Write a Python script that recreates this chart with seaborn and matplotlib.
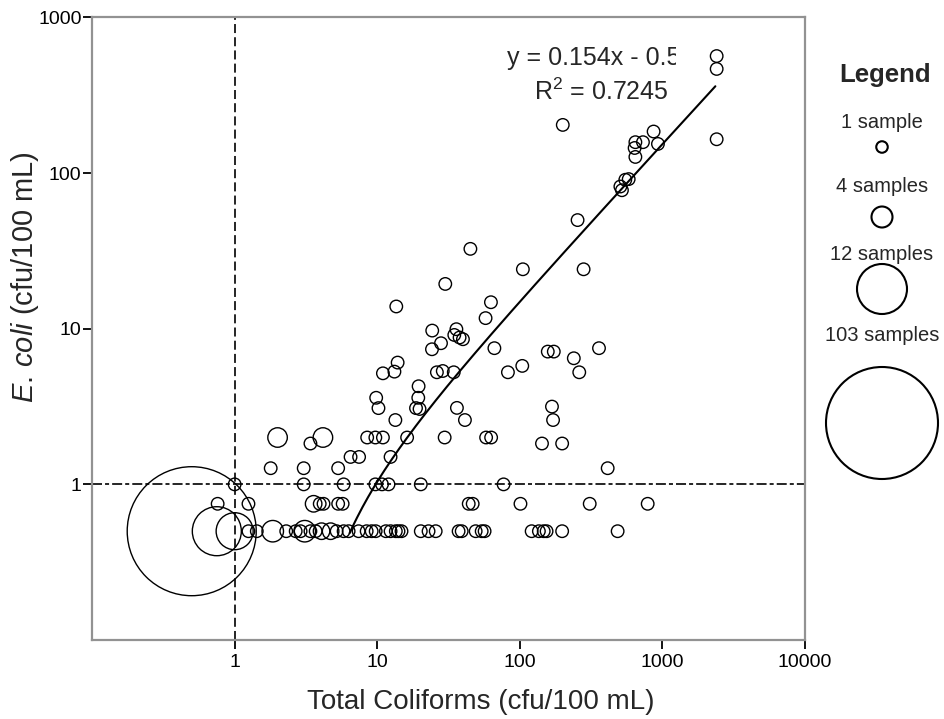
import numpy as np
import pandas as pd
import matplotlib
matplotlib.use("Agg")
import matplotlib.pyplot as plt
import seaborn as sns
from matplotlib.transforms import Bbox, TransformedBbox

# ---- data: one entry per plotted circle ----
# Total coliforms (cfu/100 mL)
total_coliforms = [
    # E. coli = 0.5
    0.5, 0.75, 1.0, 1.25, 1.43, 1.85, 2.3, 2.68, 2.9, 3.1, 3.4, 3.7, 4.07, 4.71,
    5.19, 5.81, 6.3, 7.4, 8.43, 9.14, 9.75, 11.5, 12.4, 13.5, 14.1, 14.8, 20.2,
    22.9, 25.7, 37.2, 39.1, 49, 54, 56.6, 121, 136, 147, 154, 198, 485,
    # E. coli = 0.75
    0.76, 1.25, 3.58, 3.95, 4.2, 5.32, 5.72, 43.8, 46.7, 101, 309, 788,
    # E. coli = 1
    1.0, 3.05, 5.81, 9.7, 10.8, 12.0, 20.2, 76.9,
    # E. coli = 1.27
    1.79, 3.05, 5.32, 413,
    # E. coli = 1.5
    6.5, 7.46, 12.4,
    # E. coli = 1.83
    3.4, 143, 198,
    # E. coli = 2
    2.0, 4.16, 8.5, 9.7, 10.96, 16.2, 29.7, 58, 62.9,
    # E. coli above 2
    13.4, 41.2, 171,
    10.2, 18.7, 19.8, 36.2, 168,
    9.83, 19.4,
    19.5,
    10.96, 13.2, 26.2, 28.8, 34.4, 82.5, 261,
    104, 13.9, 239,
    157, 173, 24.2, 66.3, 359,
    28, 39.9, 37.8, 34.7, 24.3, 35.9,
    57.5, 13.6, 62.7, 30, 105, 280, 45, 254,
    507, 520, 549, 580,
    646, 638, 646, 730, 930, 867, 200,
    2400, 2400, 2400,
]

# E. coli (cfu/100 mL)
e_coli = (
    [0.5] * 40
    + [0.75] * 12
    + [1.0] * 8
    + [1.27] * 4
    + [1.5] * 3
    + [1.83] * 3
    + [2.0] * 9
    + [
        2.59, 2.59, 2.59,
        3.09, 3.09, 3.05, 3.1, 3.16,
        3.6, 3.6,
        4.27,
        5.17, 5.3, 5.25, 5.35, 5.25, 5.25, 5.25,
        5.77, 6.06, 6.46,
        7.13, 7.13, 7.38, 7.5, 7.5,
        8.07, 8.56, 8.78, 9.12, 9.73, 9.93,
        11.7, 13.9, 14.8, 19.4, 24.1, 24.1, 32.6, 49.9,
        82, 77.6, 90.6, 91.5,
        127, 145, 158, 158, 154, 185, 204,
        165, 467, 565,
    ]
)

# number of samples sharing each point
n_samples = (
    [103, 12, 8, 1, 1, 4, 1, 1, 1, 4, 1, 1, 2, 2] + [1] * 26
    + [1, 1, 2] + [1] * 9
    + [1] * 8
    + [1] * 4
    + [1] * 3
    + [1] * 3
    + [3, 3] + [1] * 7
    + [1] * 54
)

# fitted trend line
fit_slope = 0.154
fit_intercept = -0.5
fit_r2 = 0.7245
fit_tc_range = (6.4, 2350)

# size key
legend_counts = [1, 4, 12, 103]
legend_labels = ["1 sample", "4 samples", "12 samples", "103 samples"]

x_ticks = [1, 10, 100, 1000, 10000]
y_ticks = [1, 10, 100, 1000]

# ---- style ----
sns.set_style("ticks")
plt.rcParams["font.family"] = ["Liberation Sans", "DejaVu Sans"]
plt.rcParams["mathtext.fontset"] = "custom"
plt.rcParams["mathtext.rm"] = "Liberation Sans"
plt.rcParams["mathtext.it"] = "Liberation Sans:italic"
plt.rcParams["lines.scale_dashes"] = False


def area(diam_px):
    """Marker area (pt^2) for a circle of the given pixel diameter at 100 dpi."""
    return (diam_px * 0.72) ** 2


point_sizes = {1: area(12.5), 2: area(16.5), 3: area(19.5), 4: area(21.5),
               8: area(37), 12: area(49), 103: area(129)}
key_sizes = {1: area(11.5), 4: area(21), 12: area(50), 103: area(112)}

df = pd.DataFrame({"tc": total_coliforms, "ec": e_coli, "n": n_samples})

fig = plt.figure(figsize=(9.44, 7.19), dpi=100)
ax = fig.add_axes([0.0975, 0.1099, 0.7553, 0.8658])
ax.set_xscale("log")
ax.set_yscale("log")

sns.scatterplot(data=df, x="tc", y="ec", size="n", sizes=point_sizes,
                facecolor="none", edgecolor="black", linewidth=1.0,
                legend=False, ax=ax, zorder=3)

fit_x = np.geomspace(*fit_tc_range, 200)
fit_y = fit_slope * fit_x + fit_intercept
sns.lineplot(x=fit_x, y=fit_y, color="black", linewidth=1.5,
             estimator=None, sort=False, ax=ax, zorder=4)

# reference lines at 1 cfu/100 mL
ax.axvline(1, color="black", linewidth=1.2, linestyle=(0, (6.5, 3.0)), zorder=2)
ax.axhline(1, color="black", linewidth=1.2,
           linestyle=(0, (7.2, 2.2, 2.9, 2.2)), zorder=2)

ax.set_xlim(0.1, 10000)
ax.set_ylim(0.1, 1000)
ax.xaxis.set_minor_locator(matplotlib.ticker.NullLocator())
ax.yaxis.set_minor_locator(matplotlib.ticker.NullLocator())
ax.set_xticks(x_ticks, [str(t) for t in x_ticks])
ax.set_yticks(y_ticks, [str(t) for t in y_ticks])
ax.tick_params(axis="both", length=6.5, width=1.3, color="black",
               labelsize=14, labelcolor="black")
ax.tick_params(axis="y", pad=1)
ax.tick_params(axis="x", pad=3.5)

for sp in ax.spines.values():
    sp.set_color("#929292")
    sp.set_linewidth(1.6)

ax.set_xlabel("Total Coliforms (cfu/100 mL)", fontsize=20)
ax.set_ylabel(r"$\it{E.}\,\it{coli}$ (cfu/100 mL)", fontsize=21)
ax.xaxis.set_label_coords(0.5456, -0.0790)
ax.yaxis.set_label_coords(-0.0715, 0.583)

eq = ax.text(0.582, 0.9244,
             f"y = {fit_slope:g}x - {abs(fit_intercept):g}",
             transform=ax.transAxes, fontsize=18, ha="left", va="baseline")
eq.set_clip_box(TransformedBbox(Bbox.from_extents(0, 0, (676 - 92) / 713, 1),
                                ax.transAxes))
eq.set_clip_on(True)
ax.text(0.62, 0.868, f"R$^2$ = {fit_r2:g}", transform=ax.transAxes,
        fontsize=18, ha="left", va="baseline")

# size key on the right, laid out in pixel coordinates
kax = fig.add_axes([805 / 944, 0, 139 / 944, 1])
kax.set_xlim(805, 944)
kax.set_ylim(719, 0)
kax.axis("off")
key_x = 882
key_text_baseline = [127.5, 191.5, 260, 341]
key_mark_y = [147, 217, 289, 423]
kax.text(key_x + 3, 82, "Legend", fontsize=18.5, fontweight="bold",
         ha="center", va="baseline")
for lab, ty in zip(legend_labels, key_text_baseline):
    kax.text(key_x, ty, lab, fontsize=14.5, ha="center", va="baseline")
sns.scatterplot(x=[key_x] * len(legend_counts), y=key_mark_y,
                size=legend_counts, sizes=key_sizes, facecolor="none",
                edgecolor="black", linewidth=1.5, legend=False, ax=kax,
                clip_on=False)
kax.set_xlim(805, 944)
kax.set_ylim(719, 0)

fig.savefig("out.png", dpi=100)
